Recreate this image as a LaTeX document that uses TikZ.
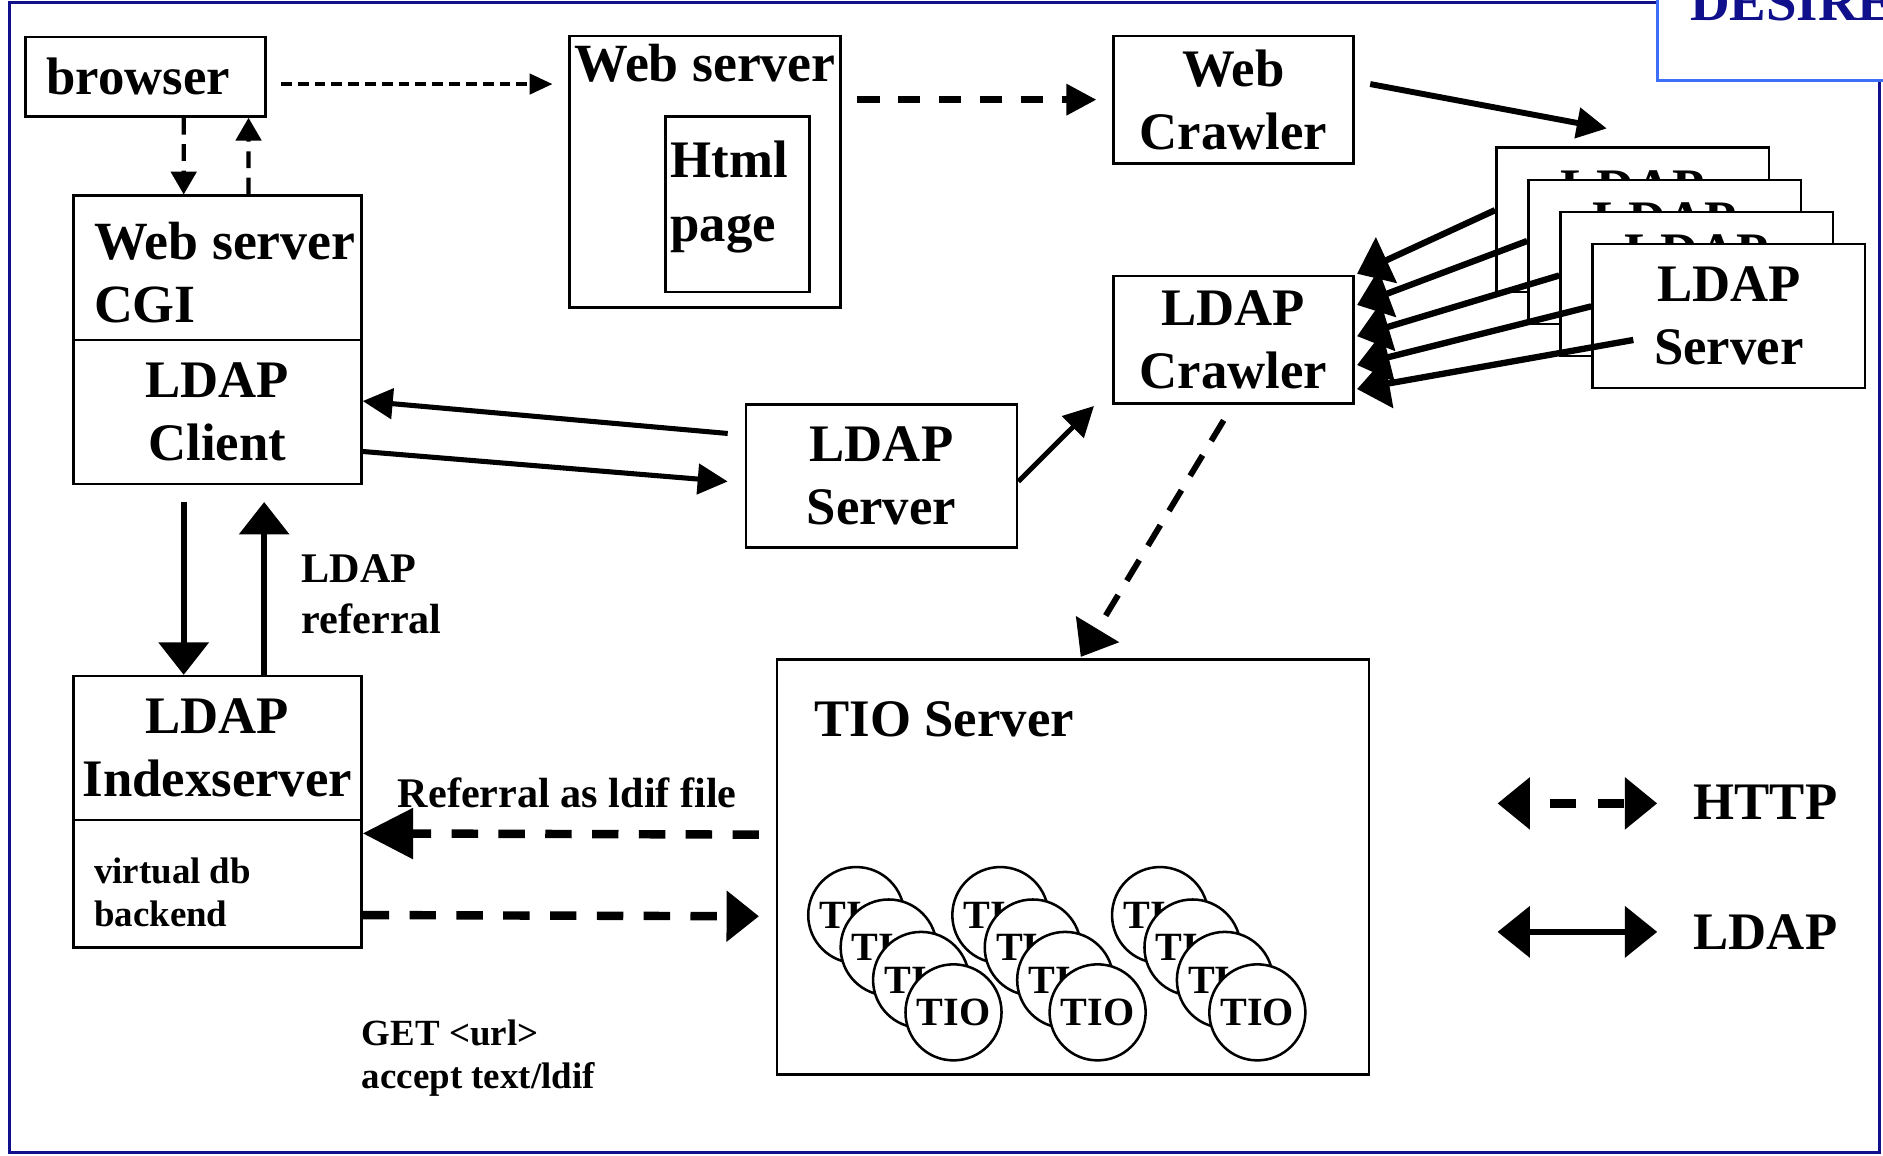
\documentclass[tikz,border=0pt]{standalone}
\usepackage{fontspec}
\setmainfont{Liberation Serif}
\usepackage{tikz}
\usetikzlibrary{arrows.meta,calc}

\definecolor{framenavy}{RGB}{16,16,140}
\definecolor{desireblue}{RGB}{60,110,250}

\newcommand{\bigtxt}{\fontsize{25}{30}\selectfont\bfseries}
\newcommand{\wstxt}{\fontsize{25.5}{30}\selectfont\bfseries}
\newcommand{\midtxt}{\fontsize{20}{24}\selectfont\bfseries}
\newcommand{\smalltxt}{\fontsize{17.5}{20.5}\selectfont\bfseries}
\newcommand{\tiotxt}{\fontsize{19}{22}\selectfont\bfseries}

\tikzset{
  box/.style={draw, line width=1.2pt, fill=white, inner sep=0pt, align=center, font=\bigtxt},
  lbl/.style={inner sep=0pt, align=left},
  tiocirc/.style={circle, draw, line width=1.2pt, fill=white, minimum size=1.6cm, inner sep=0pt, font=\tiotxt},
  midhead/.style={-{Triangle[length=0.5cm,width=0.5cm]}},
  bighead/.style={-{Triangle[length=0.54cm,width=0.82cm]}},
}

\begin{document}
\begin{tikzpicture}[x=0.02cm, y=-0.02cm]
	\useasboundingbox (0,0) rectangle (1568,962);

	% frame and title corner
	\draw[framenavy, line width=1.4pt] (8,2) rectangle (1565,960);
	\draw[desireblue, line width=1.3pt, fill=white] (1380,-30) rectangle (1620,67);
	\node[anchor=base west, inner sep=0pt, text=framenavy, font=\fontsize{26}{30}\selectfont\bfseries] (desire) at (1407,17) {DESIRE};

	% left column
	\node[box, minimum width=4cm, minimum height=1.32cm] (browser) at (121,64) {browser\hspace*{0.24cm}};
	\node[box, minimum width=4.8cm, minimum height=2.4cm] (cgi) at (181,223) {};
	\node[lbl, anchor=west, font=\wstxt] (cgitext) at (78,227) {Web server\\CGI};
	\node[box, minimum width=4.8cm, minimum height=2.4cm] (client) at (181,343) {LDAP\\Client};
	\node[box, minimum width=4.8cm, minimum height=2.4cm] (index) at (181,623) {LDAP\\Indexserver};
	\node[box, minimum width=4.8cm, minimum height=2.12cm] (backend) at (181,736) {};
	\node[lbl, anchor=west, font=\smalltxt] (backtext) at (78,743) {virtual db\\backend};

	% web server with html page
	\node[box, minimum width=4.52cm, minimum height=4.52cm] (websrv) at (587,143) {};
	\node[anchor=base, inner sep=0pt, font=\wstxt] (wstext) at (587,68) {Web server};
	\node[box, minimum width=2.4cm, minimum height=2.92cm] (html) at (614,170) {};
	\node[lbl, anchor=west, font=\bigtxt] (htmltext) at (558,164) {Html\\page};

	% crawlers and ldap servers
	\node[box, minimum width=4cm, minimum height=2.12cm] (webcrawler) at (1027,83) {Web\\Crawler};
	\node[box, minimum width=4cm, minimum height=2.12cm] (ldapcrawler) at (1027,283) {LDAP\\Crawler};
	\node[box, minimum width=4.52cm, minimum height=2.38cm] (ldapsrv) at (734,396.5) {LDAP\\Server};
	\foreach \k in {1,...,4}
		\node[box, minimum width=4.54cm, minimum height=2.4cm] (srv\k) at ({1359.5+26.7*(\k-1)},{183+26.7*(\k-1)}) {LDAP\\Server};

	% TIO server
	\node[box, minimum width=9.86cm, minimum height=6.92cm] (tio) at (893.5,722) {};
	\node[anchor=base west, inner sep=0pt, font=\bigtxt] (tiotext) at (678,613) {TIO Server};
	\foreach \g/\dx in {1/0, 2/120, 3/253}
		\foreach \k in {1,...,4}
			\node[tiocirc] (tio\g\k) at ({713+\dx+27*(\k-1)},{762+27*(\k-1)}) {TIO};

	% labels
	\node[lbl, anchor=west, font=\midtxt] (reflabel) at (251,495) {LDAP\\referral};
	\node[anchor=base west, inner sep=0pt, font=\midtxt] (ldiflabel) at (331,672) {Referral as ldif file};
	\node[lbl, anchor=west, font=\smalltxt] (getlabel) at (301,881) {GET <url>\\accept text/ldif};

	% free arrow ends
	\coordinate (brout) at (234,70);
	\coordinate (wsin) at (460,70);
	\coordinate (wsout) at (714,83);
	\coordinate (wcin) at (913,83);
	\coordinate (wcout) at (1141,70);
	\coordinate (stackin) at (1338,107);

	% http
	\draw[line width=1.6pt, dash pattern=on 0.18cm off 0.1cm, -{Triangle[length=0.38cm,width=0.34cm]}] (brout) -- (wsin);
	\draw[line width=2pt, dash pattern=on 0.28cm off 0.16cm, -{Triangle[length=0.38cm,width=0.42cm]}] ($(browser.south west)+(133,0)$) -- ($(cgi.north west)+(93,0)$);
	\draw[line width=2pt, dash pattern=on 0.28cm off 0.16cm, -{Triangle[length=0.38cm,width=0.42cm]}] ($(cgi.north west)+(147,0)$) -- ($(browser.south west)+(187,0)$);
	\draw[midhead, line width=3.1pt, dash pattern=on 0.37cm off 0.31cm] (wsout) -- (wcin);
	\draw[bighead, line width=2.8pt, dash pattern=on 0.4cm off 0.28cm] ($(ldapcrawler.south west)+(93,13)$) -- ($(tio.north west)+(254,-1)$);
	\draw[-{Triangle[length=0.84cm,width=0.82cm]}, line width=4pt, dash pattern=on 0.44cm off 0.34cm] ($(tio.west)+(-14,-27)$) -- ($(backend.north east)+(0,12)$);
	\draw[bighead, line width=4pt, dash pattern=on 0.44cm off 0.34cm] ($(backend.north east)+(0,80)$) -- ($(tio.west)+(-14,41)$);

	% ldap
	\draw[midhead, line width=2.8pt] (wcout) -- (stackin);
	\draw[bighead, line width=3pt] ($(srv1.west)+(0,-8)$) -- ($(ldapcrawler.north east)+(2,-1)$);
	\draw[bighead, line width=3pt] ($(srv2.west)+(0,-9)$) -- ($(ldapcrawler.north east)+(2,25)$);
	\draw[bighead, line width=3pt] ($(srv3.west)+(0,-7)$) -- ($(ldapcrawler.north east)+(2,51)$);
	\draw[bighead, line width=3pt] ($(srv4.west)+(0,-8)$) -- ($(ldapcrawler.north east)+(2,75)$);
	\draw[bighead, line width=3pt] ($(srv4.west)+(35,20)$) -- ($(ldapcrawler.north east)+(2,95)$);
	\draw[midhead, line width=2.4pt] ($(ldapsrv.north west)+(-14,25)$) -- ($(client.north east)+(0,52)$);
	\draw[midhead, line width=2.4pt] ($(client.north east)+(0,94)$) -- ($(ldapsrv.north west)+(-14,65)$);
	\draw[midhead, line width=2.3pt] ($(ldapsrv.north east)+(0,65)$) -- ($(ldapcrawler.south west)+(-15,1)$);
	\draw[bighead, line width=2.8pt] ($(client.south west)+(93,14)$) -- ($(index.north west)+(93,0)$);
	\draw[bighead, line width=2.8pt] ($(index.north west)+(160,0)$) -- ($(client.south west)+(160,14)$);

	% legend
	\coordinate (httpl) at (1247,669);
	\coordinate (httpr) at (1380,669);
	\coordinate (ldapl) at (1247,776);
	\coordinate (ldapr) at (1380,776);
	\draw[{Triangle[length=0.54cm,width=0.84cm]}-{Triangle[length=0.54cm,width=0.84cm]}, line width=4.5pt, dash pattern=on 0.44cm off 0.36cm, dash phase=0.44cm] (httpl) -- (httpr);
	\draw[{Triangle[length=0.54cm,width=0.84cm]}-{Triangle[length=0.54cm,width=0.84cm]}, line width=3pt] (ldapl) -- (ldapr);
	\node[anchor=base west, inner sep=0pt, font=\bigtxt] (httptext) at (1410,682) {HTTP};
	\node[anchor=base west, inner sep=0pt, font=\bigtxt] (ldaptext) at (1410,791) {LDAP};
\end{tikzpicture}
\end{document}
